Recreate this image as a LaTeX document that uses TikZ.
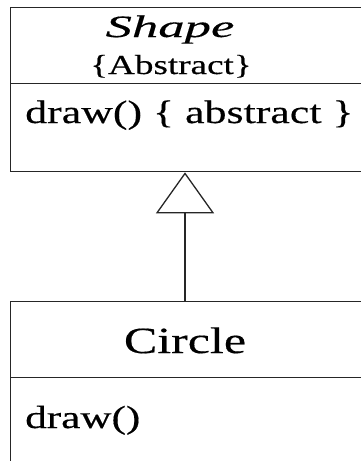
\documentclass[tikz,border=0pt]{standalone}
\usepackage{fontspec}
\setmainfont{Liberation Serif}[FakeStretch=1.35, FakeBold=0.4]
\newfontfamily\namefont{Liberation Serif}[FakeStretch=1.7, FakeBold=0.3]
\usetikzlibrary{arrows.meta}

\begin{document}
\begin{tikzpicture}[x=1pt,y=-1pt]
            \tikzstyle{every node}+=[inner sep=0pt]
            \tikzstyle{part}=[draw=black!85, line width=1.3pt, rectangle, anchor=north west]
            \tikzstyle{inherit}=[draw=black!85, line width=1.3pt, -{Triangle[open, length=41pt, width=58pt]}]
            \useasboundingbox (0,0) rectangle (361,461);
            \clip (0,0) rectangle (361,461);
            % Shape class
            \node [part, minimum width=370pt, minimum height=76pt] (shapehead) at (10,7) {};
            \node [part, minimum width=370pt, minimum height=88pt] (shapebody) at (10,83) {};
            \node [anchor=base] (shapename) at (170,37) {\namefont\itshape\fontsize{31}{31}\selectfont Shape};
            \node [anchor=base] (shapetag) at (171,74) {\fontsize{27.5}{28}\selectfont\{Abstract\}};
            \node [anchor=base west] (shapeop) at (25,123) {\fontsize{32.5}{33}\selectfont draw() \{ abstract \}};
            % Circle class
            \node [part, minimum width=370pt, minimum height=76pt] (circlehead) at (10,301) {};
            \node [part, minimum width=370pt, minimum height=110pt] (circlebody) at (10,377) {};
            \node [anchor=base] (circlename) at (185,353) {\fontsize{37}{37}\selectfont Circle};
            \node [anchor=base west] (circleop) at (25,428) {\fontsize{32}{32}\selectfont draw()};
            % generalisation
            \draw [inherit] (circlename |- circlehead.north) -- (circlename |- shapebody.south);
        \end{tikzpicture}
\end{document}
